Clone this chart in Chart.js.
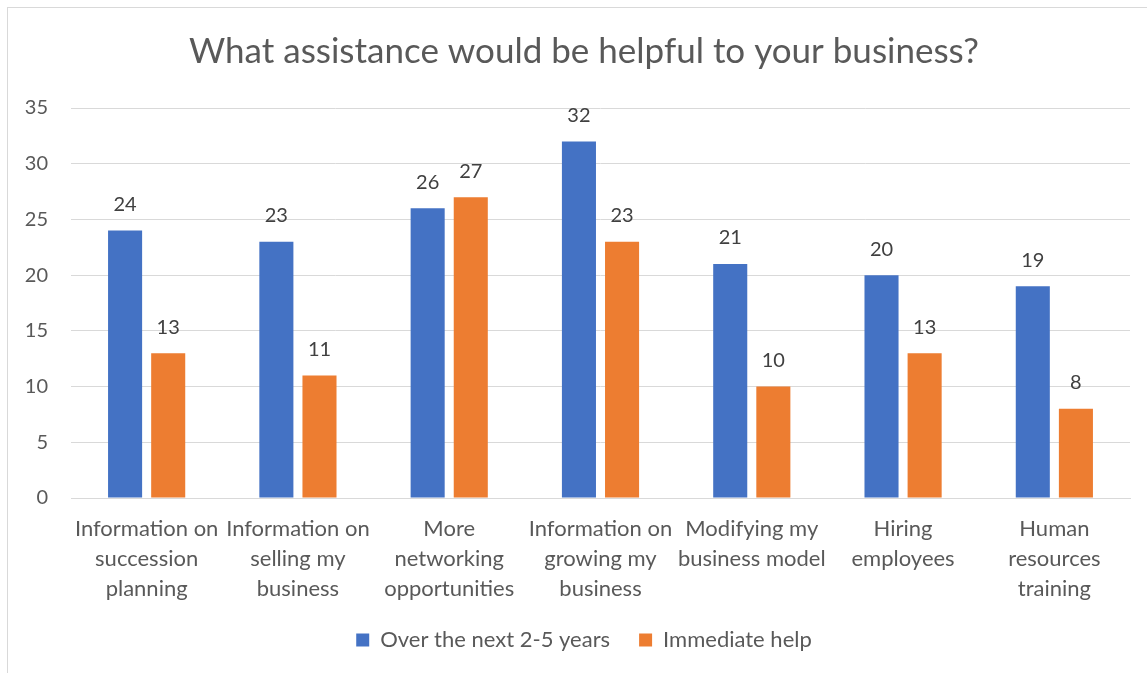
<!DOCTYPE html>
<html>
<head>
<meta charset="utf-8">
<script src="https://cdn.jsdelivr.net/npm/chart.js@4/dist/chart.umd.min.js"></script>
<style>
  html, body { margin: 0; padding: 0; background: #fff; overflow: hidden; }
  #wrap { position: relative; width: 1147px; height: 673px; }
  #frame { position: absolute; left: 7px; top: 7px; width: 1200px; height: 700px; border: 1px solid #d9d9d9; box-sizing: border-box; }
  #mycanvas { position: absolute; left: 0; top: 0; }
</style>
</head>
<body>
<div id="wrap">
  <div id="frame"></div>
  <canvas id="mycanvas" width="1147" height="673"></canvas>
</div>
<script>
// survey answers, one entry per kind of assistance
var categories = [
    ["Information on", "succession", "planning"],
    ["Information on", "selling my", "business"],
    ["More", "networking", "opportunities"],
    ["Information on", "growing my", "business"],
    ["Modifying my", "business model"],
    ["Hiring", "employees"],
    ["Human", "resources", "training"]
];
var nextYears = [24, 23, 26, 32, 21, 20, 19];
var immediate = [13, 11, 27, 23, 10, 13, 8];
var yTicks = [0, 5, 10, 15, 20, 25, 30, 35];

var FONT = "Lato, 'Open Sans', sans-serif";
var GREY = '#595959';

// numbers written above each bar
var valueLabels = {
    id: 'valueLabels',
    afterDatasetsDraw: function(chart) {
        var ctx = chart.ctx;
        ctx.save();
        ctx.font = '20px ' + FONT;
        ctx.fillStyle = '#404040';
        ctx.textAlign = 'center';
        ctx.textBaseline = 'middle';
        chart.data.datasets.forEach(function(ds, i) {
            chart.getDatasetMeta(i).data.forEach(function(bar, j) {
                ctx.fillText(ds.data[j], bar.x, bar.y - 26);
            });
        });
        ctx.restore();
    }
};

var chartdata = {
    labels: categories,
    datasets: [
        {
            label: 'Over the next 2-5 years',
            backgroundColor: '#4472C4',
            data: nextYears
        },
        {
            label: 'Immediate help',
            backgroundColor: '#ED7D31',
            data: immediate
        }
    ]
};

var ctx = document.getElementById('mycanvas');

var barGraph = new Chart(ctx, {
    type: 'bar',
    data: chartdata,
    plugins: [valueLabels],
    options: {
        responsive: false,
        animation: false,
        devicePixelRatio: 1,
        categoryPercentage: 0.57,
        barPercentage: 0.79,
        layout: { padding: { left: 21, right: 0, top: 0, bottom: 12 } },
        plugins: {
            title: {
                display: true,
                text: 'What assistance would be helpful to your business?',
                color: GREY,
                font: { family: FONT, size: 35, weight: 'normal' },
                padding: { top: 31, bottom: 35 }
            },
            legend: {
                position: 'bottom',
                labels: {
                    color: GREY,
                    boxWidth: 13,
                    boxHeight: 13,
                    padding: 29,
                    font: { family: FONT, size: 22 }
                }
            },
            tooltip: { enabled: false }
        },
        scales: {
            x: {
                grid: { display: false, drawTicks: false },
                border: { color: '#d9d9d9' },
                ticks: {
                    color: GREY,
                    padding: 16,
                    maxRotation: 0,
                    autoSkip: false,
                    font: { family: FONT, size: 22, lineHeight: 1.36 }
                },
                afterFit: function(scale) { scale.height = 102; }
            },
            y: {
                min: 0,
                max: 35,
                afterBuildTicks: function(scale) {
                    scale.ticks = yTicks.map(function(v) { return { value: v }; });
                },
                grid: { color: '#d9d9d9', drawTicks: false },
                border: { display: false },
                ticks: {
                    color: GREY,
                    padding: 23,
                    font: { family: FONT, size: 20 }
                },
                afterFit: function(scale) { scale.width = 50; }
            },
            // empty strip on the right so title and legend sit over the plot
            yRight: {
                type: 'linear',
                position: 'right',
                grid: { display: false, drawTicks: false },
                border: { display: false },
                ticks: { display: false },
                afterFit: function(scale) { scale.width = 17; }
            }
        }
    }
});
</script>
</body>
</html>
